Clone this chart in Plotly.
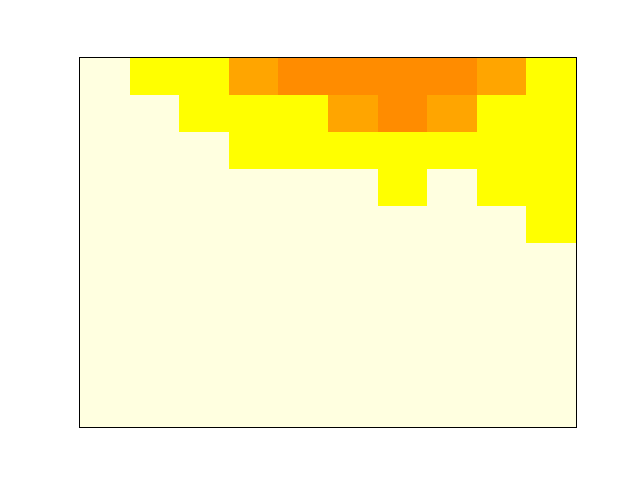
import plotly.graph_objects as go

# category level per cell, top row first (0=lightyellow,1=yellow,2=orange,3=darkorange)
row_labels = list(range(10))
col_labels = list(range(10))
levels = [
    [0, 1, 1, 2, 3, 3, 3, 3, 2, 1],
    [0, 0, 1, 1, 1, 2, 3, 2, 1, 1],
    [0, 0, 0, 1, 1, 1, 1, 1, 1, 1],
    [0, 0, 0, 0, 0, 0, 1, 0, 1, 1],
    [0, 0, 0, 0, 0, 0, 0, 0, 0, 1],
    [0, 0, 0, 0, 0, 0, 0, 0, 0, 0],
    [0, 0, 0, 0, 0, 0, 0, 0, 0, 0],
    [0, 0, 0, 0, 0, 0, 0, 0, 0, 0],
    [0, 0, 0, 0, 0, 0, 0, 0, 0, 0],
    [0, 0, 0, 0, 0, 0, 0, 0, 0, 0],
]
palette = ["#FFFFE0", "#FFFF00", "#FFA500", "#FF8C00"]

cs = []
n = len(palette)
for i, c in enumerate(palette):
    cs.append([i / n, c])
    cs.append([(i + 1) / n, c])

fig = go.Figure(go.Heatmap(
    z=levels, x=col_labels, y=row_labels,
    colorscale=cs, zmin=-0.5, zmax=n - 0.5,
    showscale=False, hoverinfo="skip",
))
# page body has an 8px margin, so the figure is 632x472 placed at (8,8)
fig.update_layout(
    width=632, height=472,
    margin=dict(l=72, r=64, t=50, b=53),
    paper_bgcolor="white", plot_bgcolor="white",
)
fig.update_xaxes(range=[-0.5, 9.5], showticklabels=False, ticks="",
                 showgrid=False, zeroline=False, showline=True, mirror=True,
                 linecolor="black", linewidth=1)
fig.update_yaxes(range=[9.5, -0.5], showticklabels=False, ticks="",
                 showgrid=False, zeroline=False, showline=True, mirror=True,
                 linecolor="black", linewidth=1)
fig.write_html("out.html")
